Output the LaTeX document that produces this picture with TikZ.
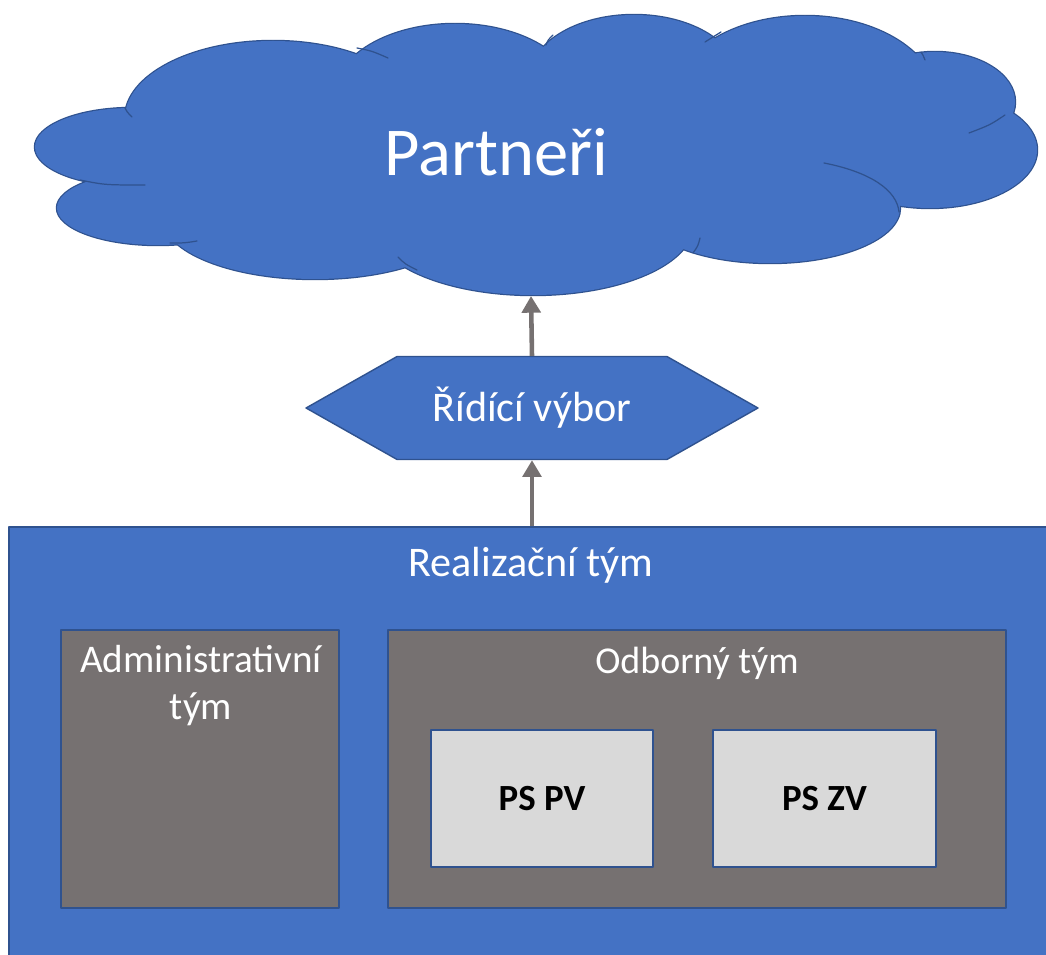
\documentclass[tikz,border=0pt]{standalone}
\usepackage{fontspec}
\setmainfont{Carlito}
\usetikzlibrary{arrows.meta,shapes.symbols}
\definecolor{blueshape}{rgb}{0.267,0.447,0.769}
\definecolor{blueedge}{rgb}{0.184,0.322,0.561}
\definecolor{grayteam}{rgb}{0.463,0.443,0.443}
\definecolor{graybox}{rgb}{0.851,0.851,0.851}
\definecolor{grayarrow}{rgb}{0.463,0.443,0.443}
\begin{document}
\begin{tikzpicture}[line cap=round,line join=round,x=0.02cm,y=-0.02cm,
	>={Triangle[length=9.5pt,width=10.5pt]},
	crease/.style={draw=blueedge,line width=0.7pt},
	teambox/.style={draw=blueedge,line width=0.8pt,fill=grayteam,inner sep=0pt},
	psbox/.style={draw=blueedge,line width=0.8pt,fill=graybox,inner sep=0pt,font=\fontsize{21}{25}\selectfont\bfseries},
	whitetext/.style={text=white,font=\fontsize{24}{27}\selectfont},
	link/.style={->,draw=grayarrow,fill=grayarrow,line width=2.6pt,line cap=butt}]
	\clip (0,0) rectangle (1046,955);
	% cloud: edge first, then fill on top
	\draw[blueedge,line width=1.4pt] (132,147) ellipse [x radius=97,y radius=39]
		(158,208) ellipse [x radius=101,y radius=37]
		(273,118) ellipse [x radius=148,y radius=77]
		(455,95) ellipse [x radius=120,y radius=71]
		(634,80) ellipse [x radius=105,y radius=65]
		(805,100) ellipse [x radius=132,y radius=84]
		(935,102) ellipse [x radius=80,y radius=50]
		(930,150) ellipse [x radius=107,y radius=58]
		(770,208) ellipse [x radius=130,y radius=55]
		(533,225) ellipse [x radius=160,y radius=70]
		(315,218) ellipse [x radius=152,y radius=61];
	\fill[blueshape] (132,147) ellipse [x radius=97,y radius=39]
		(158,208) ellipse [x radius=101,y radius=37]
		(273,118) ellipse [x radius=148,y radius=77]
		(455,95) ellipse [x radius=120,y radius=71]
		(634,80) ellipse [x radius=105,y radius=65]
		(805,100) ellipse [x radius=132,y radius=84]
		(935,102) ellipse [x radius=80,y radius=50]
		(930,150) ellipse [x radius=107,y radius=58]
		(770,208) ellipse [x radius=130,y radius=55]
		(533,225) ellipse [x radius=160,y radius=70]
		(315,218) ellipse [x radius=152,y radius=61]
		(530,150) ellipse [x radius=380,y radius=95];
	% creases inside the cloud
	\draw[crease] (125,108) .. controls (127,112) .. (132,117);
	\draw[crease] (80,180) .. controls (105,185) .. (145,185);
	\draw[crease] (170,243) .. controls (185,243) .. (197,241);
	\draw[crease] (398,257) .. controls (405,264) .. (417,270);
	\draw[crease] (357,48) .. controls (372,51) .. (388,58);
	\draw[crease] (546,45) .. controls (548,40) .. (553,35);
	\draw[crease] (721,32) .. controls (713,36) .. (705,42);
	\draw[crease] (921,52) .. controls (923,55) .. (925,60);
	\draw[crease] (1005,115) .. controls (990,125) .. (969,133);
	\draw[crease] (824,163) .. controls (870,172) and (897,190) .. (899,212);
	\draw[crease] (693,253) .. controls (698,246) .. (700,238);
	\node[text=white,font=\fontsize{39}{47}\selectfont] (partneri) at (496,152) {Partneři};
	\coordinate (cloudbot) at (531,296);
	% hexagon
	\node[signal,signal to=west and east,signal pointer angle=59,fill=blueshape,draw=blueedge,line width=0.8pt,
		minimum width=9.04cm,minimum height=2.06cm,inner sep=0pt,whitetext] (ridici) at (532,408) {Řídící výbor};
	% teams
	\node[fill=blueshape,draw=blueedge,line width=0.8pt,minimum width=20.82cm,minimum height=8.66cm] (realiz) at (529.5,743.5) {};
	\node[whitetext] (realiztext) at (531,565) {Realizační tým};
	\node[teambox,minimum width=5.56cm,minimum height=5.56cm] (admin) at (200,769) {};
	\node[text=white,font=\fontsize{22.3}{26.7}\selectfont,align=center] (admintext) at (201,686) {Administrativní\\tým};
	\node[teambox,minimum width=12.36cm,minimum height=5.56cm] (odborny) at (697,769) {};
	\node[text=white,font=\fontsize{21.6}{26}\selectfont] (odbornytext) at (697,663) {Odborný tým};
	\node[psbox,minimum width=4.44cm,minimum height=2.74cm] (pspv) at (542,798.5) {PS PV};
	\node[psbox,minimum width=4.46cm,minimum height=2.74cm] (pszv) at (824.5,798.5) {PS ZV};
	% arrows
	\draw[link] (ridici.north) -- (cloudbot);
	\draw[link] (ridici.south |- realiz.north) -- (ridici.south);
\end{tikzpicture}
\end{document}
